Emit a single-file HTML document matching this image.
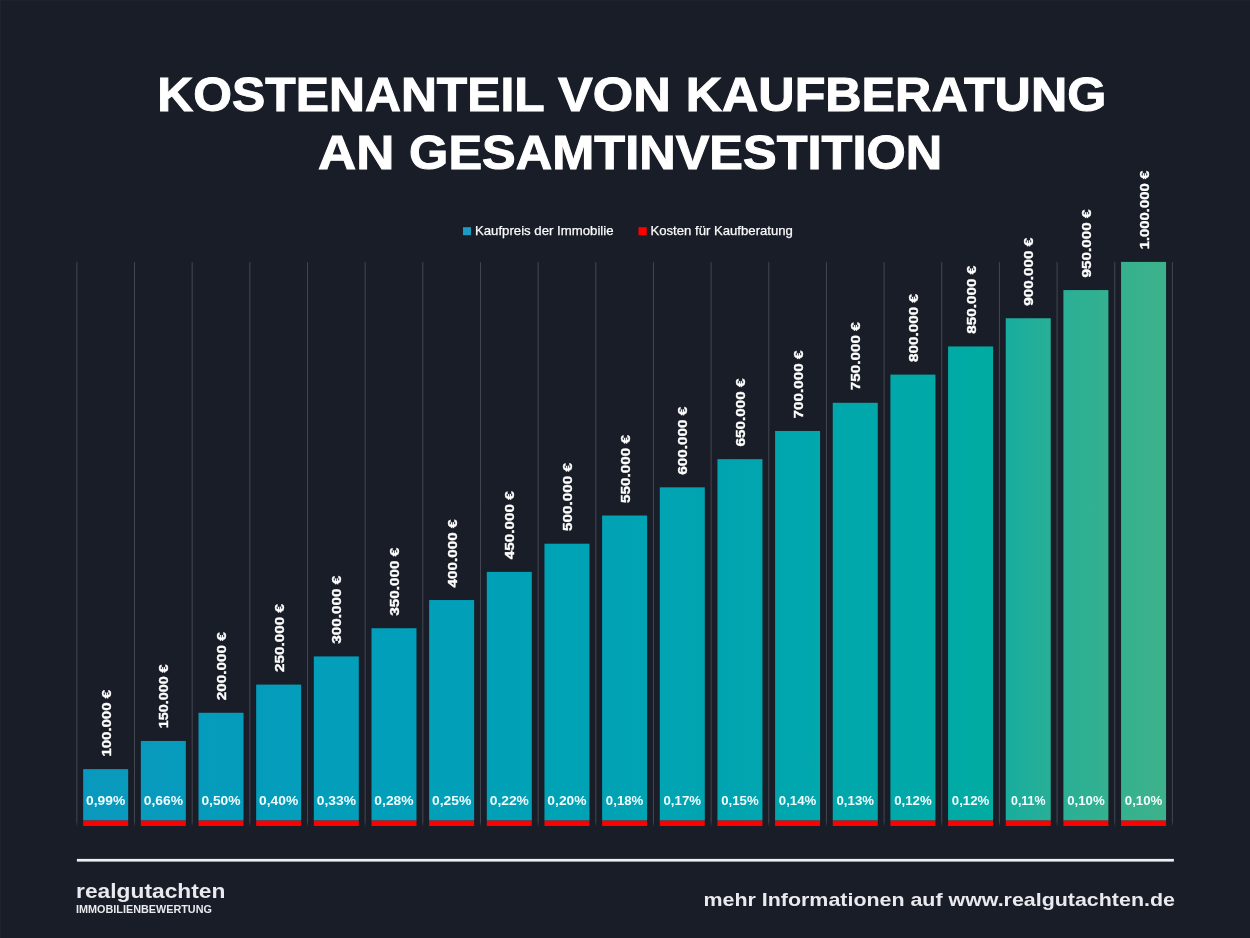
<!DOCTYPE html>
<html lang="de">
<head>
<meta charset="utf-8">
<title>Kostenanteil von Kaufberatung an Gesamtinvestition</title>
<style>
html,body{margin:0;padding:0;background:#181d27;}
body{width:1250px;height:938px;overflow:hidden;position:relative;font-family:"Liberation Sans",sans-serif;}
svg{position:absolute;left:0;top:0;display:block}
text{font-family:"Liberation Sans",sans-serif;fill:#fff}
.t{font-weight:700;font-size:49px;stroke:#fff;stroke-width:1px}
.lg{font-size:13px;fill:#fafafc;stroke:#fafafc;stroke-width:0.25px}
.vl{font-weight:700;font-size:13.3px;stroke:#fff;stroke-width:0.35px}
.pc{font-weight:700;font-size:13.4px;fill:#f2fcfd}
.f1{font-weight:700;font-size:21px;fill:#e9e9ee}
.f2{font-weight:700;font-size:10px;fill:#e9e9ee}
.f3{font-weight:700;font-size:19px;fill:#e9e9ee}
</style>
</head>
<body>
<svg width="1250" height="938" viewBox="0 0 1250 938">
<defs>
<linearGradient id="gl" x1="0" y1="0" x2="0" y2="1"><stop offset="0" stop-color="#424651" stop-opacity="0"/><stop offset="0.004" stop-color="#424651" stop-opacity="1"/><stop offset="0.99" stop-color="#424651" stop-opacity="1"/><stop offset="1" stop-color="#424651" stop-opacity="0"/></linearGradient>
<linearGradient id="b0" x1="0" y1="0" x2="1" y2="0"><stop offset="0" stop-color="#0a99be"/><stop offset="1" stop-color="#089abd"/></linearGradient>
<linearGradient id="b1" x1="0" y1="0" x2="1" y2="0"><stop offset="0" stop-color="#089abd"/><stop offset="1" stop-color="#069bbc"/></linearGradient>
<linearGradient id="b2" x1="0" y1="0" x2="1" y2="0"><stop offset="0" stop-color="#069bbc"/><stop offset="1" stop-color="#049cbb"/></linearGradient>
<linearGradient id="b3" x1="0" y1="0" x2="1" y2="0"><stop offset="0" stop-color="#049cbb"/><stop offset="1" stop-color="#039ebb"/></linearGradient>
<linearGradient id="b4" x1="0" y1="0" x2="1" y2="0"><stop offset="0" stop-color="#039ebb"/><stop offset="1" stop-color="#029eba"/></linearGradient>
<linearGradient id="b5" x1="0" y1="0" x2="1" y2="0"><stop offset="0" stop-color="#029eba"/><stop offset="1" stop-color="#01a0b9"/></linearGradient>
<linearGradient id="b6" x1="0" y1="0" x2="1" y2="0"><stop offset="0" stop-color="#01a0b9"/><stop offset="1" stop-color="#01a0b8"/></linearGradient>
<linearGradient id="b7" x1="0" y1="0" x2="1" y2="0"><stop offset="0" stop-color="#01a0b8"/><stop offset="1" stop-color="#00a2b6"/></linearGradient>
<linearGradient id="b8" x1="0" y1="0" x2="1" y2="0"><stop offset="0" stop-color="#00a2b6"/><stop offset="1" stop-color="#00a2b5"/></linearGradient>
<linearGradient id="b9" x1="0" y1="0" x2="1" y2="0"><stop offset="0" stop-color="#00a2b5"/><stop offset="1" stop-color="#00a4b3"/></linearGradient>
<linearGradient id="b10" x1="0" y1="0" x2="1" y2="0"><stop offset="0" stop-color="#00a4b3"/><stop offset="1" stop-color="#00a4b1"/></linearGradient>
<linearGradient id="b11" x1="0" y1="0" x2="1" y2="0"><stop offset="0" stop-color="#00a4b1"/><stop offset="1" stop-color="#00a6af"/></linearGradient>
<linearGradient id="b12" x1="0" y1="0" x2="1" y2="0"><stop offset="0" stop-color="#00a6af"/><stop offset="1" stop-color="#00a7ac"/></linearGradient>
<linearGradient id="b13" x1="0" y1="0" x2="1" y2="0"><stop offset="0" stop-color="#00a7ac"/><stop offset="1" stop-color="#00a8aa"/></linearGradient>
<linearGradient id="b14" x1="0" y1="0" x2="1" y2="0"><stop offset="0" stop-color="#00a8aa"/><stop offset="1" stop-color="#00aaa6"/></linearGradient>
<linearGradient id="b15" x1="0" y1="0" x2="1" y2="0"><stop offset="0" stop-color="#00aaa6"/><stop offset="1" stop-color="#00aca1"/></linearGradient>
<linearGradient id="b16" x1="0" y1="0" x2="1" y2="0"><stop offset="0" stop-color="#18ad9e"/><stop offset="1" stop-color="#28af97"/></linearGradient>
<linearGradient id="b17" x1="0" y1="0" x2="1" y2="0"><stop offset="0" stop-color="#2aaf95"/><stop offset="1" stop-color="#34b190"/></linearGradient>
<linearGradient id="b18" x1="0" y1="0" x2="1" y2="0"><stop offset="0" stop-color="#36b18e"/><stop offset="1" stop-color="#3cb28b"/></linearGradient>
</defs>
<rect width="1250" height="938" fill="#181d27"/>
<g id="title">
<text class="t"><tspan x="157.30" y="111.2" textLength="386.61" lengthAdjust="spacingAndGlyphs">KOSTENANTEIL</tspan> <tspan x="558.00" y="111.2" textLength="112.78" lengthAdjust="spacingAndGlyphs">VON</tspan> <tspan x="685.80" y="111.2" textLength="420.46" lengthAdjust="spacingAndGlyphs">KAUFBERATUNG</tspan></text>
<text class="t"><tspan x="318.10" y="169" textLength="76.28" lengthAdjust="spacingAndGlyphs">AN</tspan> <tspan x="409.10" y="169" textLength="533.12" lengthAdjust="spacingAndGlyphs">GESAMTINVESTITION</tspan></text>
</g>
<g id="legend">
<rect x="463" y="227.2" width="8" height="8" fill="#1a9cc4"/>
<text class="lg"><tspan x="474.94" y="234.8" textLength="138.63" lengthAdjust="spacingAndGlyphs">Kaufpreis der Immobilie</tspan></text>
<rect x="638.5" y="227.2" width="8.2" height="8" fill="#ff0000"/>
<text class="lg"><tspan x="650.44" y="234.8" textLength="142.46" lengthAdjust="spacingAndGlyphs">Kosten für Kaufberatung</tspan></text>
</g>
<g id="footer">
<rect x="76.9" y="858.9" width="1097" height="2.7" fill="#eeeff2"/>
<text class="f1"><tspan x="76.10" y="897.9" textLength="149.25" lengthAdjust="spacingAndGlyphs">realgutachten</tspan></text>
<text class="f2"><tspan x="76.10" y="913.4" textLength="135.82" lengthAdjust="spacingAndGlyphs">IMMOBILIENBEWERTUNG</tspan></text>
<text class="f3"><tspan x="703.54" y="905.5" textLength="471.37" lengthAdjust="spacingAndGlyphs">mehr Informationen auf www.realgutachten.de</tspan></text>
</g>
<g id="chart">
<rect x="76.35" y="261" width="1" height="566" fill="url(#gl)"/>
<rect x="134.01" y="261" width="1" height="566" fill="url(#gl)"/>
<rect x="191.67" y="261" width="1" height="566" fill="url(#gl)"/>
<rect x="249.33" y="261" width="1" height="566" fill="url(#gl)"/>
<rect x="306.99" y="261" width="1" height="566" fill="url(#gl)"/>
<rect x="364.65" y="261" width="1" height="566" fill="url(#gl)"/>
<rect x="422.31" y="261" width="1" height="566" fill="url(#gl)"/>
<rect x="479.97" y="261" width="1" height="566" fill="url(#gl)"/>
<rect x="537.63" y="261" width="1" height="566" fill="url(#gl)"/>
<rect x="595.29" y="261" width="1" height="566" fill="url(#gl)"/>
<rect x="652.95" y="261" width="1" height="566" fill="url(#gl)"/>
<rect x="710.61" y="261" width="1" height="566" fill="url(#gl)"/>
<rect x="768.27" y="261" width="1" height="566" fill="url(#gl)"/>
<rect x="825.93" y="261" width="1" height="566" fill="url(#gl)"/>
<rect x="883.59" y="261" width="1" height="566" fill="url(#gl)"/>
<rect x="941.25" y="261" width="1" height="566" fill="url(#gl)"/>
<rect x="998.91" y="261" width="1" height="566" fill="url(#gl)"/>
<rect x="1056.57" y="261" width="1" height="566" fill="url(#gl)"/>
<rect x="1114.23" y="261" width="1" height="566" fill="url(#gl)"/>
<rect x="1171.89" y="261" width="1" height="566" fill="url(#gl)"/>
<rect x="83.18" y="769.14" width="45.0" height="51.46" fill="url(#b0)"/>
<rect x="83.18" y="820.60" width="45.0" height="5.4" fill="#fe0000"/>
<text class="pc" x="105.68" y="804.7" text-anchor="middle" textLength="39.2" lengthAdjust="spacingAndGlyphs">0,99%</text>
<text class="vl" x="110.68" y="756.54" transform="rotate(-90 110.68 756.54)" textLength="66.5" lengthAdjust="spacingAndGlyphs">100.000 €</text>
<rect x="140.84" y="740.96" width="45.0" height="79.64" fill="url(#b1)"/>
<rect x="140.84" y="820.60" width="45.0" height="5.4" fill="#fe0000"/>
<text class="pc" x="163.34" y="804.7" text-anchor="middle" textLength="39.2" lengthAdjust="spacingAndGlyphs">0,66%</text>
<text class="vl" x="168.34" y="728.36" transform="rotate(-90 168.34 728.36)" textLength="64" lengthAdjust="spacingAndGlyphs">150.000 €</text>
<rect x="198.50" y="712.78" width="45.0" height="107.82" fill="url(#b2)"/>
<rect x="198.50" y="820.60" width="45.0" height="5.4" fill="#fe0000"/>
<text class="pc" x="221.00" y="804.7" text-anchor="middle" textLength="39.2" lengthAdjust="spacingAndGlyphs">0,50%</text>
<text class="vl" x="226.00" y="700.18" transform="rotate(-90 226.00 700.18)" textLength="68" lengthAdjust="spacingAndGlyphs">200.000 €</text>
<rect x="256.16" y="684.60" width="45.0" height="136.00" fill="url(#b3)"/>
<rect x="256.16" y="820.60" width="45.0" height="5.4" fill="#fe0000"/>
<text class="pc" x="278.66" y="804.7" text-anchor="middle" textLength="39.2" lengthAdjust="spacingAndGlyphs">0,40%</text>
<text class="vl" x="283.66" y="672.00" transform="rotate(-90 283.66 672.00)" textLength="68" lengthAdjust="spacingAndGlyphs">250.000 €</text>
<rect x="313.82" y="656.42" width="45.0" height="164.18" fill="url(#b4)"/>
<rect x="313.82" y="820.60" width="45.0" height="5.4" fill="#fe0000"/>
<text class="pc" x="336.32" y="804.7" text-anchor="middle" textLength="39.2" lengthAdjust="spacingAndGlyphs">0,33%</text>
<text class="vl" x="341.32" y="643.82" transform="rotate(-90 341.32 643.82)" textLength="68" lengthAdjust="spacingAndGlyphs">300.000 €</text>
<rect x="371.48" y="628.24" width="45.0" height="192.36" fill="url(#b5)"/>
<rect x="371.48" y="820.60" width="45.0" height="5.4" fill="#fe0000"/>
<text class="pc" x="393.98" y="804.7" text-anchor="middle" textLength="39.2" lengthAdjust="spacingAndGlyphs">0,28%</text>
<text class="vl" x="398.98" y="615.64" transform="rotate(-90 398.98 615.64)" textLength="68" lengthAdjust="spacingAndGlyphs">350.000 €</text>
<rect x="429.14" y="600.06" width="45.0" height="220.54" fill="url(#b6)"/>
<rect x="429.14" y="820.60" width="45.0" height="5.4" fill="#fe0000"/>
<text class="pc" x="451.64" y="804.7" text-anchor="middle" textLength="39.2" lengthAdjust="spacingAndGlyphs">0,25%</text>
<text class="vl" x="456.64" y="587.46" transform="rotate(-90 456.64 587.46)" textLength="68" lengthAdjust="spacingAndGlyphs">400.000 €</text>
<rect x="486.80" y="571.88" width="45.0" height="248.72" fill="url(#b7)"/>
<rect x="486.80" y="820.60" width="45.0" height="5.4" fill="#fe0000"/>
<text class="pc" x="509.30" y="804.7" text-anchor="middle" textLength="39.2" lengthAdjust="spacingAndGlyphs">0,22%</text>
<text class="vl" x="514.30" y="559.28" transform="rotate(-90 514.30 559.28)" textLength="68" lengthAdjust="spacingAndGlyphs">450.000 €</text>
<rect x="544.46" y="543.70" width="45.0" height="276.90" fill="url(#b8)"/>
<rect x="544.46" y="820.60" width="45.0" height="5.4" fill="#fe0000"/>
<text class="pc" x="566.96" y="804.7" text-anchor="middle" textLength="39.2" lengthAdjust="spacingAndGlyphs">0,20%</text>
<text class="vl" x="571.96" y="531.10" transform="rotate(-90 571.96 531.10)" textLength="68" lengthAdjust="spacingAndGlyphs">500.000 €</text>
<rect x="602.12" y="515.52" width="45.0" height="305.08" fill="url(#b9)"/>
<rect x="602.12" y="820.60" width="45.0" height="5.4" fill="#fe0000"/>
<text class="pc" x="624.62" y="804.7" text-anchor="middle" textLength="37.5" lengthAdjust="spacingAndGlyphs">0,18%</text>
<text class="vl" x="629.62" y="502.92" transform="rotate(-90 629.62 502.92)" textLength="68" lengthAdjust="spacingAndGlyphs">550.000 €</text>
<rect x="659.78" y="487.34" width="45.0" height="333.26" fill="url(#b10)"/>
<rect x="659.78" y="820.60" width="45.0" height="5.4" fill="#fe0000"/>
<text class="pc" x="682.28" y="804.7" text-anchor="middle" textLength="37.5" lengthAdjust="spacingAndGlyphs">0,17%</text>
<text class="vl" x="687.28" y="474.74" transform="rotate(-90 687.28 474.74)" textLength="68" lengthAdjust="spacingAndGlyphs">600.000 €</text>
<rect x="717.44" y="459.16" width="45.0" height="361.44" fill="url(#b11)"/>
<rect x="717.44" y="820.60" width="45.0" height="5.4" fill="#fe0000"/>
<text class="pc" x="739.94" y="804.7" text-anchor="middle" textLength="37.5" lengthAdjust="spacingAndGlyphs">0,15%</text>
<text class="vl" x="744.94" y="446.56" transform="rotate(-90 744.94 446.56)" textLength="68" lengthAdjust="spacingAndGlyphs">650.000 €</text>
<rect x="775.10" y="430.98" width="45.0" height="389.62" fill="url(#b12)"/>
<rect x="775.10" y="820.60" width="45.0" height="5.4" fill="#fe0000"/>
<text class="pc" x="797.60" y="804.7" text-anchor="middle" textLength="37.5" lengthAdjust="spacingAndGlyphs">0,14%</text>
<text class="vl" x="802.60" y="418.38" transform="rotate(-90 802.60 418.38)" textLength="68" lengthAdjust="spacingAndGlyphs">700.000 €</text>
<rect x="832.76" y="402.80" width="45.0" height="417.80" fill="url(#b13)"/>
<rect x="832.76" y="820.60" width="45.0" height="5.4" fill="#fe0000"/>
<text class="pc" x="855.26" y="804.7" text-anchor="middle" textLength="37.5" lengthAdjust="spacingAndGlyphs">0,13%</text>
<text class="vl" x="860.26" y="390.20" transform="rotate(-90 860.26 390.20)" textLength="68" lengthAdjust="spacingAndGlyphs">750.000 €</text>
<rect x="890.42" y="374.62" width="45.0" height="445.98" fill="url(#b14)"/>
<rect x="890.42" y="820.60" width="45.0" height="5.4" fill="#fe0000"/>
<text class="pc" x="912.92" y="804.7" text-anchor="middle" textLength="37.5" lengthAdjust="spacingAndGlyphs">0,12%</text>
<text class="vl" x="917.92" y="362.02" transform="rotate(-90 917.92 362.02)" textLength="68" lengthAdjust="spacingAndGlyphs">800.000 €</text>
<rect x="948.08" y="346.44" width="45.0" height="474.16" fill="url(#b15)"/>
<rect x="948.08" y="820.60" width="45.0" height="5.4" fill="#fe0000"/>
<text class="pc" x="970.58" y="804.7" text-anchor="middle" textLength="37.5" lengthAdjust="spacingAndGlyphs">0,12%</text>
<text class="vl" x="975.58" y="333.84" transform="rotate(-90 975.58 333.84)" textLength="68" lengthAdjust="spacingAndGlyphs">850.000 €</text>
<rect x="1005.74" y="318.26" width="45.0" height="502.34" fill="url(#b16)"/>
<rect x="1005.74" y="820.60" width="45.0" height="5.4" fill="#fe0000"/>
<text class="pc" x="1028.24" y="804.7" text-anchor="middle" textLength="34.5" lengthAdjust="spacingAndGlyphs">0,11%</text>
<text class="vl" x="1033.24" y="305.66" transform="rotate(-90 1033.24 305.66)" textLength="68" lengthAdjust="spacingAndGlyphs">900.000 €</text>
<rect x="1063.40" y="290.08" width="45.0" height="530.52" fill="url(#b17)"/>
<rect x="1063.40" y="820.60" width="45.0" height="5.4" fill="#fe0000"/>
<text class="pc" x="1085.90" y="804.7" text-anchor="middle" textLength="37.5" lengthAdjust="spacingAndGlyphs">0,10%</text>
<text class="vl" x="1090.90" y="277.48" transform="rotate(-90 1090.90 277.48)" textLength="68" lengthAdjust="spacingAndGlyphs">950.000 €</text>
<rect x="1121.06" y="261.90" width="45.0" height="558.70" fill="url(#b18)"/>
<rect x="1121.06" y="820.60" width="45.0" height="5.4" fill="#fe0000"/>
<text class="pc" x="1143.56" y="804.7" text-anchor="middle" textLength="37.5" lengthAdjust="spacingAndGlyphs">0,10%</text>
<text class="vl" x="1148.56" y="249.30" transform="rotate(-90 1148.56 249.30)" textLength="78.5" lengthAdjust="spacingAndGlyphs">1.000.000 €</text>
</g>
<rect x="0" y="0" width="1" height="938" fill="#1f252e"/>
<rect x="0" y="0" width="1250" height="1" fill="#1d232c"/>
</svg>
</body>
</html>
